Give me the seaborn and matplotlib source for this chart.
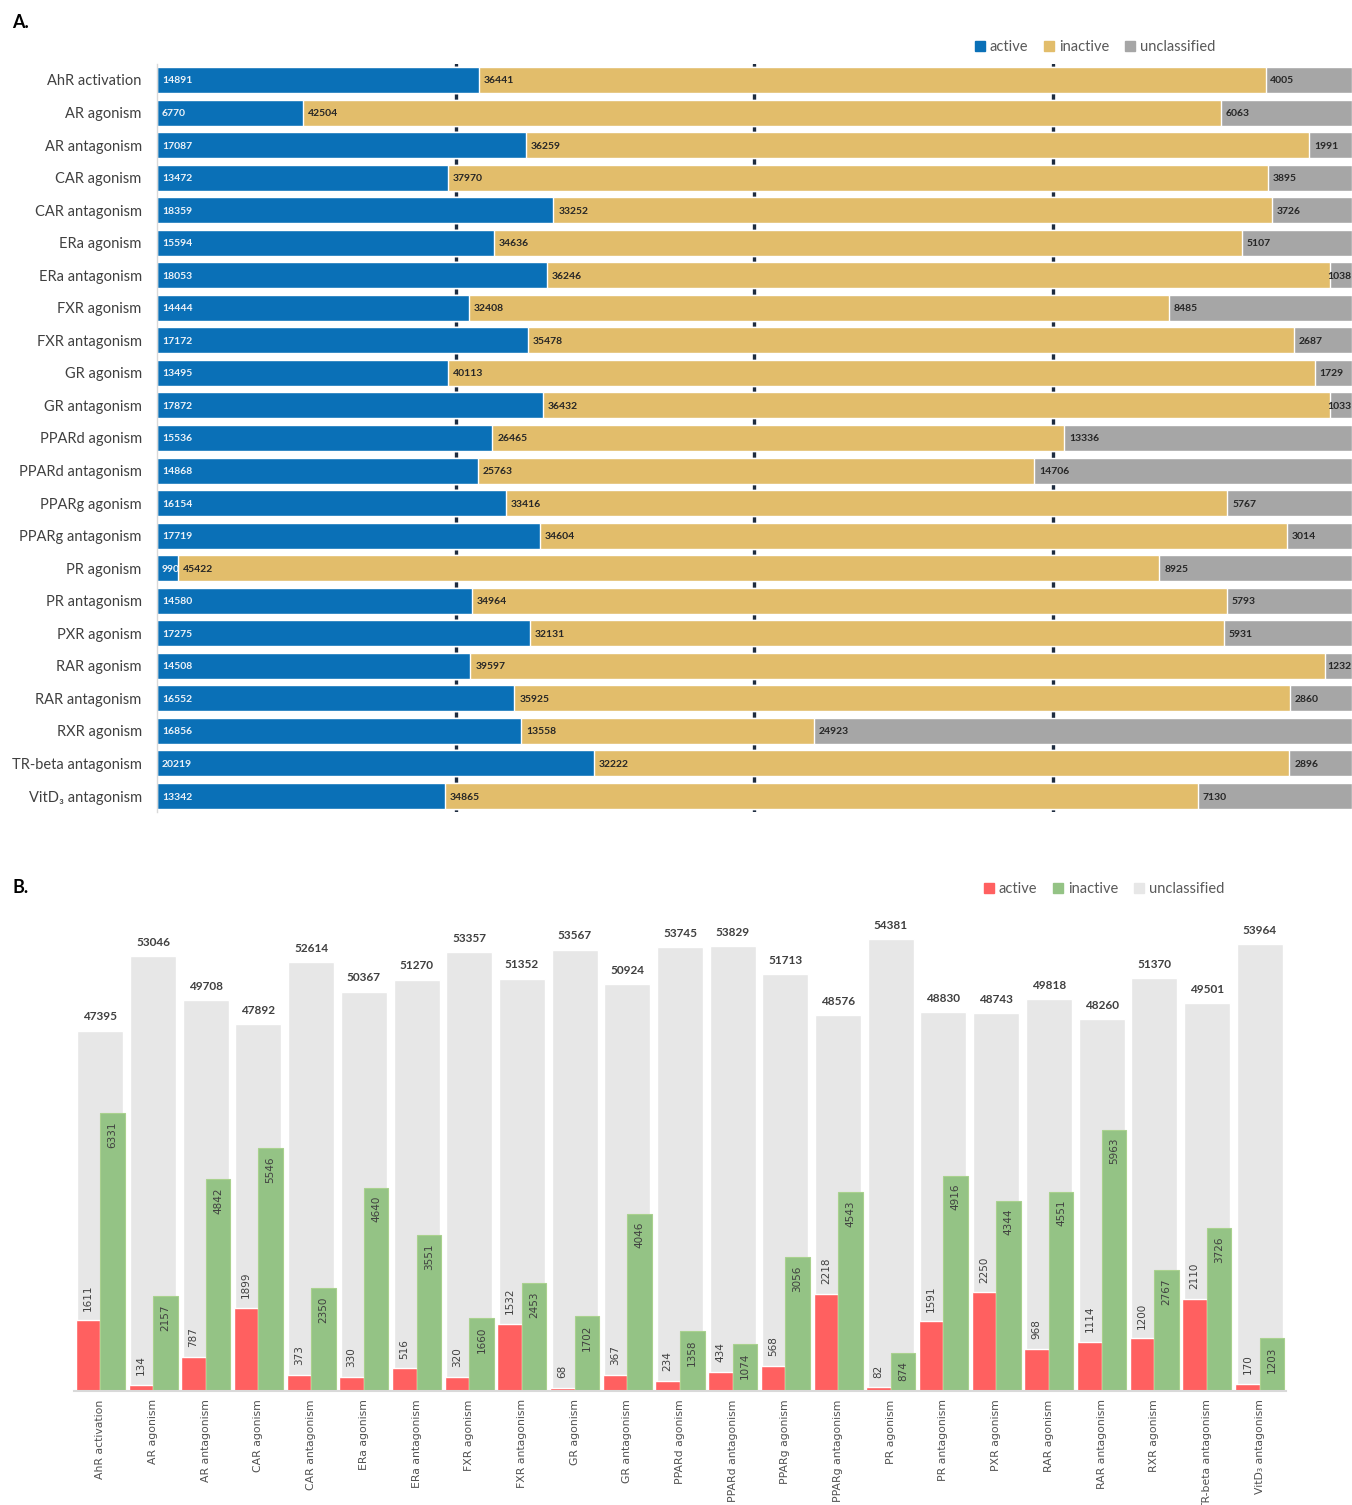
import matplotlib
matplotlib.use("Agg")
import matplotlib.pyplot as plt
import seaborn as sns
import pandas as pd
import numpy as np
from matplotlib.patches import Patch

# ---------------- data ----------------
assays = ["AhR activation", "AR agonism", "AR antagonism", "CAR agonism", "CAR antagonism",
          "ERa agonism", "ERa antagonism", "FXR agonism", "FXR antagonism", "GR agonism",
          "GR antagonism", "PPARd agonism", "PPARd antagonism", "PPARg agonism",
          "PPARg antagonism", "PR agonism", "PR antagonism", "PXR agonism", "RAR agonism",
          "RAR antagonism", "RXR agonism", "TR-beta antagonism", "VitD\u2083 antagonism"]

# Panel A
active_a = [14891, 6770, 17087, 13472, 18359, 15594, 18053, 14444, 17172, 13495, 17872, 15536,
            14868, 16154, 17719, 990, 14580, 17275, 14508, 16552, 16856, 20219, 13342]
inactive_a = [36441, 42504, 36259, 37970, 33252, 34636, 36246, 32408, 35478, 40113, 36432, 26465,
              25763, 33416, 34604, 45422, 34964, 32131, 39597, 35925, 13558, 32222, 34865]
unclass_a = [4005, 6063, 1991, 3895, 3726, 5107, 1038, 8485, 2687, 1729, 1033, 13336,
             14706, 5767, 3014, 8925, 5793, 5931, 1232, 2860, 24923, 2896, 7130]

# Panel B
active_b = [1611, 134, 787, 1899, 373, 330, 516, 320, 1532, 68, 367, 234,
            434, 568, 2218, 82, 1591, 2250, 968, 1114, 1200, 2110, 170]
inactive_b = [6331, 2157, 4842, 5546, 2350, 4640, 3551, 1660, 2453, 1702, 4046, 1358,
              1074, 3056, 4543, 874, 4916, 4344, 4551, 5963, 2767, 3726, 1203]
unclass_b = [47395, 53046, 49708, 47892, 52614, 50367, 51270, 53357, 51352, 53567, 50924, 53745,
             53829, 51713, 48576, 54381, 48830, 48743, 49818, 48260, 51370, 49501, 53964]

status_labels = ["active", "inactive", "unclassified"]

# ---------------- style ----------------
BLUE, GOLD, GRAY = "#0A70B7", "#E2BD6B", "#A6A6A6"
RED, GREEN, LGRAY = "#FF6060", "#94C385", "#E7E7E7"
TXT = "#404040"

sns.set_theme(style="white")
plt.rcParams["font.family"] = ["Lato", "DejaVu Sans"]

W, H = 1352, 1505
fig = plt.figure(figsize=(W / 100, H / 100), dpi=100)


def rect(l, t, r, b):
    return [l / W, 1 - b / H, (r - l) / W, (b - t) / H]


# ================= Panel A =================
axA = fig.add_axes(rect(157, 63.7, 1352, 812.3))
dfA = pd.DataFrame({"assay": assays, "active": active_a,
                    "inactive": inactive_a, "unclassified": unclass_a})
dfA["s2"] = dfA["active"] + dfA["inactive"]
dfA["s3"] = dfA["s2"] + dfA["unclassified"]

for col, c in [("s3", GRAY), ("s2", GOLD), ("active", BLUE)]:
    sns.barplot(data=dfA, y="assay", x=col, order=assays, color=c, width=0.8,
                saturation=1, ax=axA, orient="h", errorbar=None)

total = dfA["s3"].max()
axA.set_xlim(0, total)
axA.set_ylim(len(assays) - 0.5, -0.5)
axA.set_xticks(total * np.array([0.25, 0.5, 0.75]))
axA.set_xticklabels([])
axA.tick_params(axis="x", length=0)
axA.grid(True, axis="x", color="#1E2C40", linewidth=2.4)
axA.set_axisbelow(True)
axA.tick_params(axis="y", length=0, pad=11, labelsize=10.5, labelcolor=TXT)
axA.set_xlabel("")
axA.set_ylabel("")
for s in ["top", "right", "bottom"]:
    axA.spines[s].set_visible(False)
axA.spines["left"].set_color("#D9D9D9")
axA.spines["left"].set_linewidth(1)

starts = [np.zeros(len(assays)), dfA["active"].values, dfA["s2"].values]
vals = [active_a, inactive_a, unclass_a]
tcols = ["#EEF3F8", "#262626", "#262626"]
bars_ref = axA.containers[2]
for k in range(3):
    for i, p in enumerate(bars_ref):
        yc = p.get_y() + p.get_height() / 2
        x0, off, ha = starts[k][i], 3.5, "left"
        if k == 2 and vals[k][i] < 0.03 * total:
            x0, off, ha = total, -0.5, "right"
        axA.annotate(f"{vals[k][i]}", (x0, yc), xytext=(off, 0),
                     textcoords="offset points", ha=ha, va="center_baseline",
                     fontsize=7.5, fontweight="bold", color=tcols[k], zorder=5)

fig.legend(handles=[Patch(color=BLUE), Patch(color=GOLD), Patch(color=GRAY)],
           labels=status_labels, loc="center", bbox_to_anchor=(1095 / W, 1 - 47 / H),
           ncol=3, frameon=False, handlelength=0.7, handleheight=0.7, handletextpad=0.3,
           columnspacing=1.1, fontsize=10.5, labelcolor="#595959")

fig.text(12 / W, 1 - 22 / H, "A.", fontsize=13, fontweight="bold", va="center", ha="left",
         color="black")

# ================= Panel B =================
rB = rect(74, 865, 1286, 1391)
axG = fig.add_axes(rB)
sns.barplot(x=assays, y=unclass_b, order=assays, color=LGRAY, width=0.873, saturation=1,
            ax=axG, errorbar=None)
axG.set_ylim(20000, 60000)
axG.set_xlim(-0.5, len(assays) - 0.5)
axG.set_yticks([])
axG.tick_params(axis="x", labelbottom=False, length=0)
for s in axG.spines.values():
    s.set_visible(False)
for p, v in zip(axG.containers[0], unclass_b):
    axG.annotate(f"{v}", (p.get_x() + p.get_width() / 2, p.get_height()), xytext=(0, 6),
                 textcoords="offset points", ha="center", va="bottom", fontsize=8.5,
                 fontweight="bold", color=TXT)

axR = fig.add_axes(rB, facecolor="none")
dfB = pd.DataFrame({"assay": assays * 2,
                    "status": ["active"] * len(assays) + ["inactive"] * len(assays),
                    "count": active_b + inactive_b})
sns.barplot(data=dfB, x="assay", y="count", hue="status", order=assays,
            hue_order=["active", "inactive"], palette={"active": RED, "inactive": GREEN},
            width=0.93, saturation=1, ax=axR, legend=False, errorbar=None)
axR.set_ylim(0, 12000)
axR.set_xlim(-0.5, len(assays) - 0.5)
axR.set_yticks([])
axR.set_xlabel("")
axR.set_ylabel("")
for s in ["top", "right", "left"]:
    axR.spines[s].set_visible(False)
axR.spines["bottom"].set_color("#D9D9D9")
axR.spines["bottom"].set_linewidth(1.5)
for p in axR.containers[1]:
    p.set_edgecolor("#A9D18E")
    p.set_linewidth(0.8)
axR.tick_params(axis="x", rotation=90, labelsize=7.8, labelcolor="#505050", length=0, pad=6)
for lab in axR.get_xticklabels():
    lab.set_family("DejaVu Sans")

for p, v in zip(axR.containers[0], active_b):
    axR.annotate(f"{v}", (p.get_x() + p.get_width() / 2, p.get_height()), xytext=(0, 7),
                 textcoords="offset points", ha="center", va="bottom", rotation=90,
                 fontsize=7.5, color=TXT, family="DejaVu Sans")
for p, v in zip(axR.containers[1], inactive_b):
    axR.annotate(f"{v}", (p.get_x() + p.get_width() / 2, p.get_height()), xytext=(0, -6),
                 textcoords="offset points", ha="center", va="top", rotation=90,
                 fontsize=7.5, color=TXT, family="DejaVu Sans")

fig.legend(handles=[Patch(color=RED), Patch(color=GREEN), Patch(color=LGRAY)],
           labels=status_labels, loc="center", bbox_to_anchor=(1104 / W, 1 - 889 / H),
           ncol=3, frameon=False, handlelength=0.7, handleheight=0.7, handletextpad=0.3,
           columnspacing=1.1, fontsize=10.5, labelcolor="#595959")

fig.text(12 / W, 1 - 887 / H, "B.", fontsize=13, fontweight="bold", va="center", ha="left",
         color="black")

fig.savefig("out.png", dpi=100)
